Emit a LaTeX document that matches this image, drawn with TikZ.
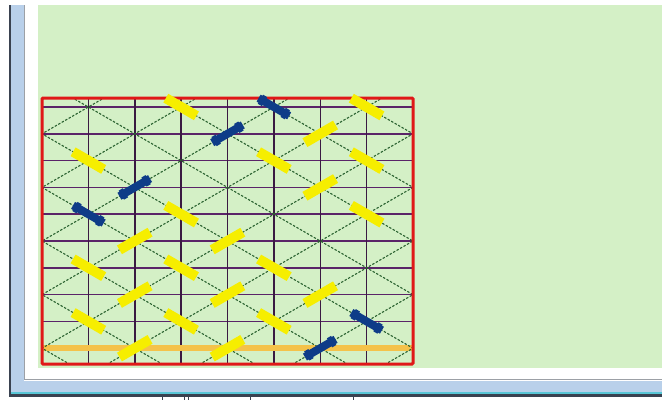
\documentclass[tikz,border=0pt]{standalone}
\definecolor{bggreen}{HTML}{D4F0C6}
\definecolor{framedark}{HTML}{3A4250}
\definecolor{frameblue}{HTML}{B9D0EA}
\definecolor{framegray}{HTML}{9CA0A6}
\definecolor{cyanline}{HTML}{58C6D6}
\definecolor{hcol}{HTML}{5A2468}
\definecolor{vcol}{HTML}{3A1A42}
\definecolor{dcol}{HTML}{2A6230}
\definecolor{redcol}{HTML}{E01818}
\definecolor{ycol}{HTML}{F6EE00}
\definecolor{bcol}{HTML}{0E3C88}
\definecolor{ocol}{HTML}{F4C24A}
\begin{document}
\begin{tikzpicture}[x=1pt,y=-1pt,
  hline/.style={hcol,line width=1.5pt},
  vline/.style={vcol,line width=1.5pt},
  diagline/.style={dcol,line width=1.1pt,dash pattern=on 2.4pt off 1.6pt},
  orangeline/.style={ocol,line width=6pt},
  redborder/.style={redcol,line width=3pt,rounded corners=1pt},
  ystick/.style={ycol,line width=10pt},
  bstick/.style={bcol,line width=8pt},
  bbump/.style={bcol,line width=10.5pt}]
\useasboundingbox (0,0) rectangle (662,400);
\fill[white] (0,0) rectangle (662,400);
% window frame
\fill[framedark] (9,5) rectangle (11,397);
\fill[frameblue] (11,5) rectangle (24,392);
\fill[frameblue] (11,381) rectangle (662,392);
\draw[framegray,line width=1.2pt] (24.6,5) -- (24.6,379.6) -- (662,379.6);
\fill[cyanline] (11,391.5) rectangle (662,393.5);
\fill[framedark] (9,394) rectangle (662,397);
\foreach \xx in {162,184,188,250,353} \draw[framedark,line width=1pt] (\xx,397) -- (\xx,400);
% green canvas
\fill[bggreen] (38,5) rectangle (662,367.5);
% grid
\begin{scope}[shift={(42pt,-107pt)},x={(46.375pt,0pt)},y={(0pt,-26.8pt)}]
  \foreach \j in {0,...,9} \draw[hline] (0,\j) -- (8,\j);
  \foreach \i in {1,...,7} \draw[vline] (\i,-0.336) -- (\i,9.59);
  \draw[orangeline] (0,9) -- (8,9);
  \begin{scope}
    \clip (0,-0.336) rectangle (8,9.59);
    \foreach \c in {1,3,...,17} \draw[diagline] (\c+10,-10) -- (\c-10,10);
    \foreach \c in {-9,-7,...,7} \draw[diagline] (\c-10,-10) -- (\c+10,10);
  \end{scope}
  \draw[redborder] (0,-0.336) rectangle (8,9.59);
  % yellow sticks, down-right
  \foreach \i/\j in {3/0,7/0,1/2,5/2,7/2,3/4,7/4,1/6,3/6,5/6,1/8,3/8,5/8}
    \draw[ystick] (\i-0.33,\j-0.33) -- (\i+0.33,\j+0.33);
  % yellow sticks, up-right
  \foreach \i/\j in {6/1,6/3,2/5,4/5,2/7,4/7,6/7,2/9,4/9}
    \draw[ystick] (\i-0.33,\j+0.33) -- (\i+0.33,\j-0.33);
  % blue sticks, down-right
  \foreach \i/\j in {5/0,1/4,7/8}{
    \draw[bstick] (\i-0.33,\j-0.33) -- (\i+0.33,\j+0.33);
    \draw[bbump] (\i-0.29,\j-0.29) -- (\i-0.2,\j-0.2);
    \draw[bbump] (\i+0.2,\j+0.2) -- (\i+0.29,\j+0.29);
  }
  % blue sticks, up-right
  \foreach \i/\j in {4/1,2/3,6/9}{
    \draw[bstick] (\i-0.33,\j+0.33) -- (\i+0.33,\j-0.33);
    \draw[bbump] (\i-0.29,\j+0.29) -- (\i-0.2,\j+0.2);
    \draw[bbump] (\i+0.2,\j-0.2) -- (\i+0.29,\j-0.29);
  }
\end{scope}
\end{tikzpicture}
\end{document}
